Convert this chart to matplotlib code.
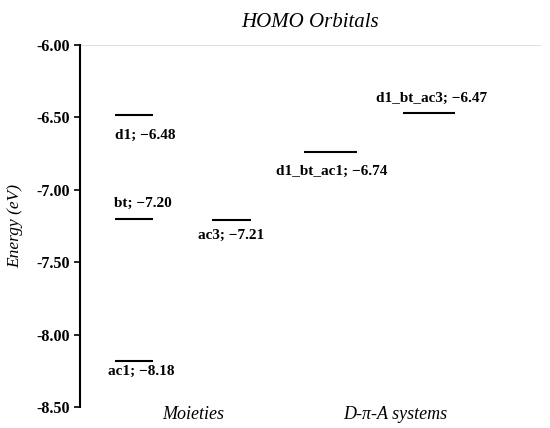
import matplotlib.pyplot as plt

# HOMO levels
names = ["d1", "bt", "ac1", "ac3", "d1_bt_ac1", "d1_bt_ac3"]
energies = [-6.48, -7.20, -8.18, -7.21, -6.74, -6.47]
groups = ["Moieties", "D-\u03c0-A systems"]

# where each level sits along x, and its half width
x_pos = [0.70, 0.70, 0.70, 1.97, 3.26, 4.54]
half_w = [0.25, 0.25, 0.25, 0.25, 0.34, 0.34]
group_x = [1.48, 4.10]
# label placement (x in data units, y offset in pixels)
lab_x = [0.85, 0.82, 0.80, 1.97, 3.27, 4.58]
lab_dy = [-21, 15, -11, -15, -19, 15]

plt.rcParams['font.family'] = ['Liberation Serif', 'DejaVu Serif']

fig, ax = plt.subplots(figsize=(5.5, 4.28), dpi=100)
fig.subplots_adjust(left=80/550, right=541/550, top=1-45/428, bottom=1-407/428)

for i in range(len(names)):
    ax.hlines(energies[i], x_pos[i] - half_w[i], x_pos[i] + half_w[i],
              color="black", lw=1.5)
    ax.annotate(f"{names[i]}; \u2212{abs(energies[i]):.2f}",
                xy=(lab_x[i], energies[i]), xytext=(0, lab_dy[i]),
                textcoords="offset pixels", ha="center", va="center",
                fontsize=11, fontweight="bold")

ax.set_xlim(0, 6)
ax.set_ylim(-8.5, -6.0)
ax.set_yticks([-6.0, -6.5, -7.0, -7.5, -8.0, -8.5])
ax.set_yticklabels([f"{v:.2f}" for v in ax.get_yticks()], fontweight="bold", fontsize=11.5)
ax.set_xticks(group_x)
ax.set_xticklabels(groups, fontstyle="italic", fontsize=13)
ax.tick_params(axis="x", length=0, pad=-1)
ax.tick_params(axis="y", direction="out", length=4, width=1.2, pad=3)

ax.axhline(-6.0, color="#d9d9d9", lw=1.2)
for s in ["top", "right", "bottom"]:
    ax.spines[s].set_visible(False)
ax.spines["left"].set_linewidth(1.5)

ax.set_ylabel("Energy (eV)", fontstyle="italic", fontsize=12.5, labelpad=10)
ax.set_title("HOMO Orbitals", fontstyle="italic", fontsize=15, pad=13)

fig.savefig("out.png", dpi=100)
